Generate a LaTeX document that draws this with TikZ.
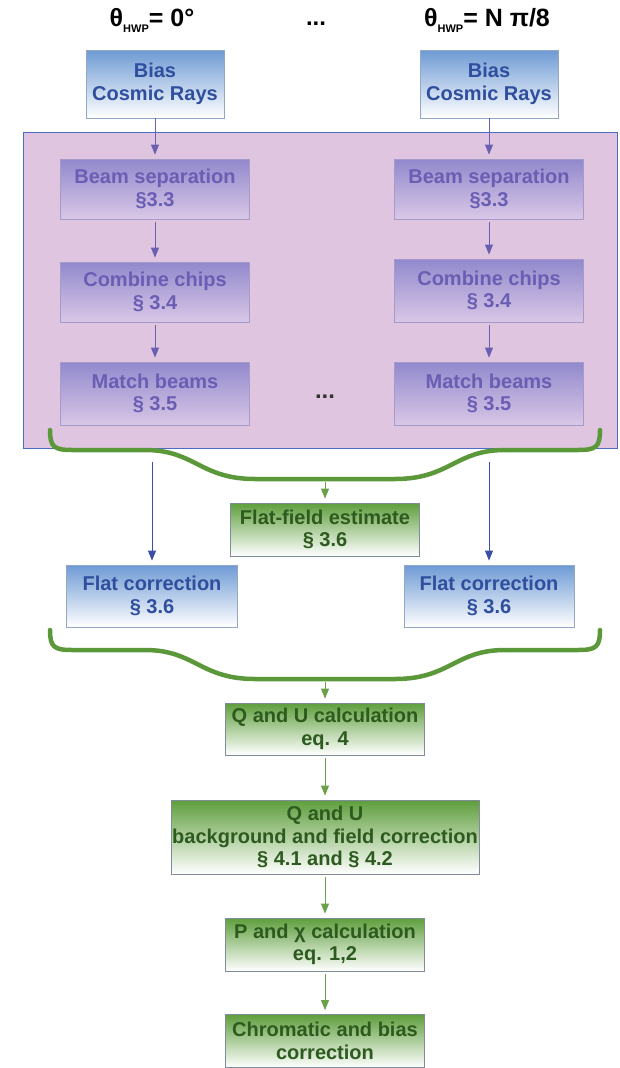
\documentclass[tikz,border=0pt]{standalone}
\usepackage{fontspec}
\setmainfont{Liberation Sans}
\usetikzlibrary{arrows.meta}

\definecolor{bluetop}{HTML}{6E9AD4}
\definecolor{bluetext}{HTML}{2F4E9E}
\definecolor{blueline}{HTML}{93A8C6}
\definecolor{purptop}{HTML}{9189CD}
\definecolor{purpbot}{HTML}{D9C7E6}
\definecolor{purptext}{HTML}{6B5DB3}
\definecolor{purpline}{HTML}{A59BCB}
\definecolor{pinkbg}{HTML}{E0C5E0}
\definecolor{pinkline}{HTML}{4A6FC2}
\definecolor{greentop}{HTML}{5E9E3C}
\definecolor{greentext}{HTML}{2D5A1E}
\definecolor{greenline}{HTML}{7F8C9A}
\definecolor{bracegreen}{HTML}{5B9839}
\definecolor{arrowblue}{HTML}{3B4FA6}
\definecolor{arrowpurp}{HTML}{6A5FB0}
\definecolor{arrowgreen}{HTML}{6DA04A}

\begin{document}
\begin{tikzpicture}[x=1pt, y=-1pt,
  box/.style={inner sep=0pt, align=center, font=\fontsize{20}{22.5}\selectfont\bfseries, line width=0.8pt},
  bluebox/.style={box, draw=blueline, top color=bluetop, bottom color=white, text=bluetext},
  purpbox/.style={box, draw=purpline, top color=purptop, bottom color=purpbot, text=purptext},
  greenbox/.style={box, draw=greenline, top color=greentop, bottom color=white, text=greentext},
  flow/.style={-{Triangle[length=10pt,width=8pt]}, line width=0.8pt, shorten <=3pt, shorten >=4pt},
  brace/.style={draw=bracegreen, line width=4.5pt, line cap=round},
  title/.style={font=\fontsize{25}{28}\selectfont\bfseries},
  dots/.style={font=\fontsize{24}{24}\selectfont\bfseries}]
  \useasboundingbox (0,0) rectangle (619,1068);

  \node[title] (t0) at (152,20) {θ\raisebox{-6pt}{\fontsize{11}{11}\selectfont HWP}= 0°};
  \node[title] (tN) at (487,20) {θ\raisebox{-6pt}{\fontsize{11}{11}\selectfont HWP}= N π/8};
  \node[dots] (d0) at (316,24) {...};

  \node[bluebox, minimum width=138pt, minimum height=68pt] (bias0) at (155,84) {Bias\\Cosmic Rays};
  \node[bluebox, minimum width=138pt, minimum height=68pt] (biasN) at (489,84) {Bias\\Cosmic Rays};

  \draw[draw=pinkline, fill=pinkbg, line width=0.8pt] (23,132) rectangle (617,448);

  \node[purpbox, minimum width=189pt, minimum height=60pt] (sep0) at (155,189) {Beam separation\\§3.3};
  \node[purpbox, minimum width=189pt, minimum height=60pt] (comb0) at (155,292) {Combine chips\\§ 3.4};
  \node[purpbox, minimum width=189pt, minimum height=63pt] (match0) at (155,393.5) {Match beams\\§ 3.5};
  \node[purpbox, minimum width=189pt, minimum height=60pt] (sepN) at (489,189) {Beam separation\\§3.3};
  \node[purpbox, minimum width=189pt, minimum height=63pt] (combN) at (489,290.5) {Combine chips\\§ 3.4};
  \node[purpbox, minimum width=189pt, minimum height=63pt] (matchN) at (489,393.5) {Match beams\\§ 3.5};
  \node[dots, text=black!80] (d1) at (325,397) {...};

  \draw[flow, draw=arrowpurp, shorten <=0pt] (bias0) -- (sep0);
  \draw[flow, draw=arrowpurp] (sep0) -- (comb0);
  \draw[flow, draw=arrowpurp] (comb0) -- (match0);
  \draw[flow, draw=arrowpurp, shorten <=0pt] (biasN) -- (sepN);
  \draw[flow, draw=arrowpurp] (sepN) -- (combN);
  \draw[flow, draw=arrowpurp] (combN) -- (matchN);

  \draw[brace] (50,430) .. controls (50,447) and (54,450) .. (72,450) -- (145,450) .. controls (195,450) and (200,479) .. (255,479) -- (395,479) .. controls (450,479) and (455,450) .. (505,450) -- (578,450) .. controls (596,450) and (600,447) .. (600,430);
  \coordinate (b1) at (325,482);

  \node[greenbox, minimum width=189pt, minimum height=53pt] (ff) at (325,529.5) {Flat-field estimate\\§ 3.6};
  \node[bluebox, minimum width=171pt, minimum height=62pt] (flat0) at (152,596) {Flat correction\\§ 3.6};
  \node[bluebox, minimum width=170pt, minimum height=62pt] (flatN) at (489,596) {Flat correction\\§ 3.6};

  \coordinate (f0) at (152,462);
  \coordinate (fN) at (489,462);
  \draw[flow, draw=arrowblue, shorten <=0pt] (f0) -- (flat0);
  \draw[flow, draw=arrowblue, shorten <=0pt] (fN) -- (flatN);
  \draw[flow, draw=arrowgreen, shorten <=0pt] (b1) -- (ff);

  \begin{scope}[shift={(0,200)}]
    \draw[brace] (50,430) .. controls (50,447) and (54,450) .. (72,450) -- (145,450) .. controls (195,450) and (200,479) .. (255,479) -- (395,479) .. controls (450,479) and (455,450) .. (505,450) -- (578,450) .. controls (596,450) and (600,447) .. (600,430);
    \coordinate (b2) at (325,482);
  \end{scope}

  \node[greenbox, minimum width=199pt, minimum height=52pt] (qu) at (325,729) {Q and U calculation\\eq. 4};
  \node[greenbox, minimum width=308pt, minimum height=74pt] (qubg) at (325,837) {Q and U\\background and field correction\\§ 4.1 and § 4.2};
  \node[greenbox, minimum width=199pt, minimum height=53pt] (pchi) at (325,944.5) {P and χ calculation\\eq. 1,2};
  \node[greenbox, minimum width=199pt, minimum height=53pt] (chrom) at (325,1041) {Chromatic and bias\\correction};

  \draw[flow, draw=arrowgreen, shorten <=0pt] (b2) -- (qu);
  \draw[flow, draw=arrowgreen] (qu) -- (qubg);
  \draw[flow, draw=arrowgreen] (qubg) -- (pchi);
  \draw[flow, draw=arrowgreen] (pchi) -- (chrom);
\end{tikzpicture}
\end{document}
